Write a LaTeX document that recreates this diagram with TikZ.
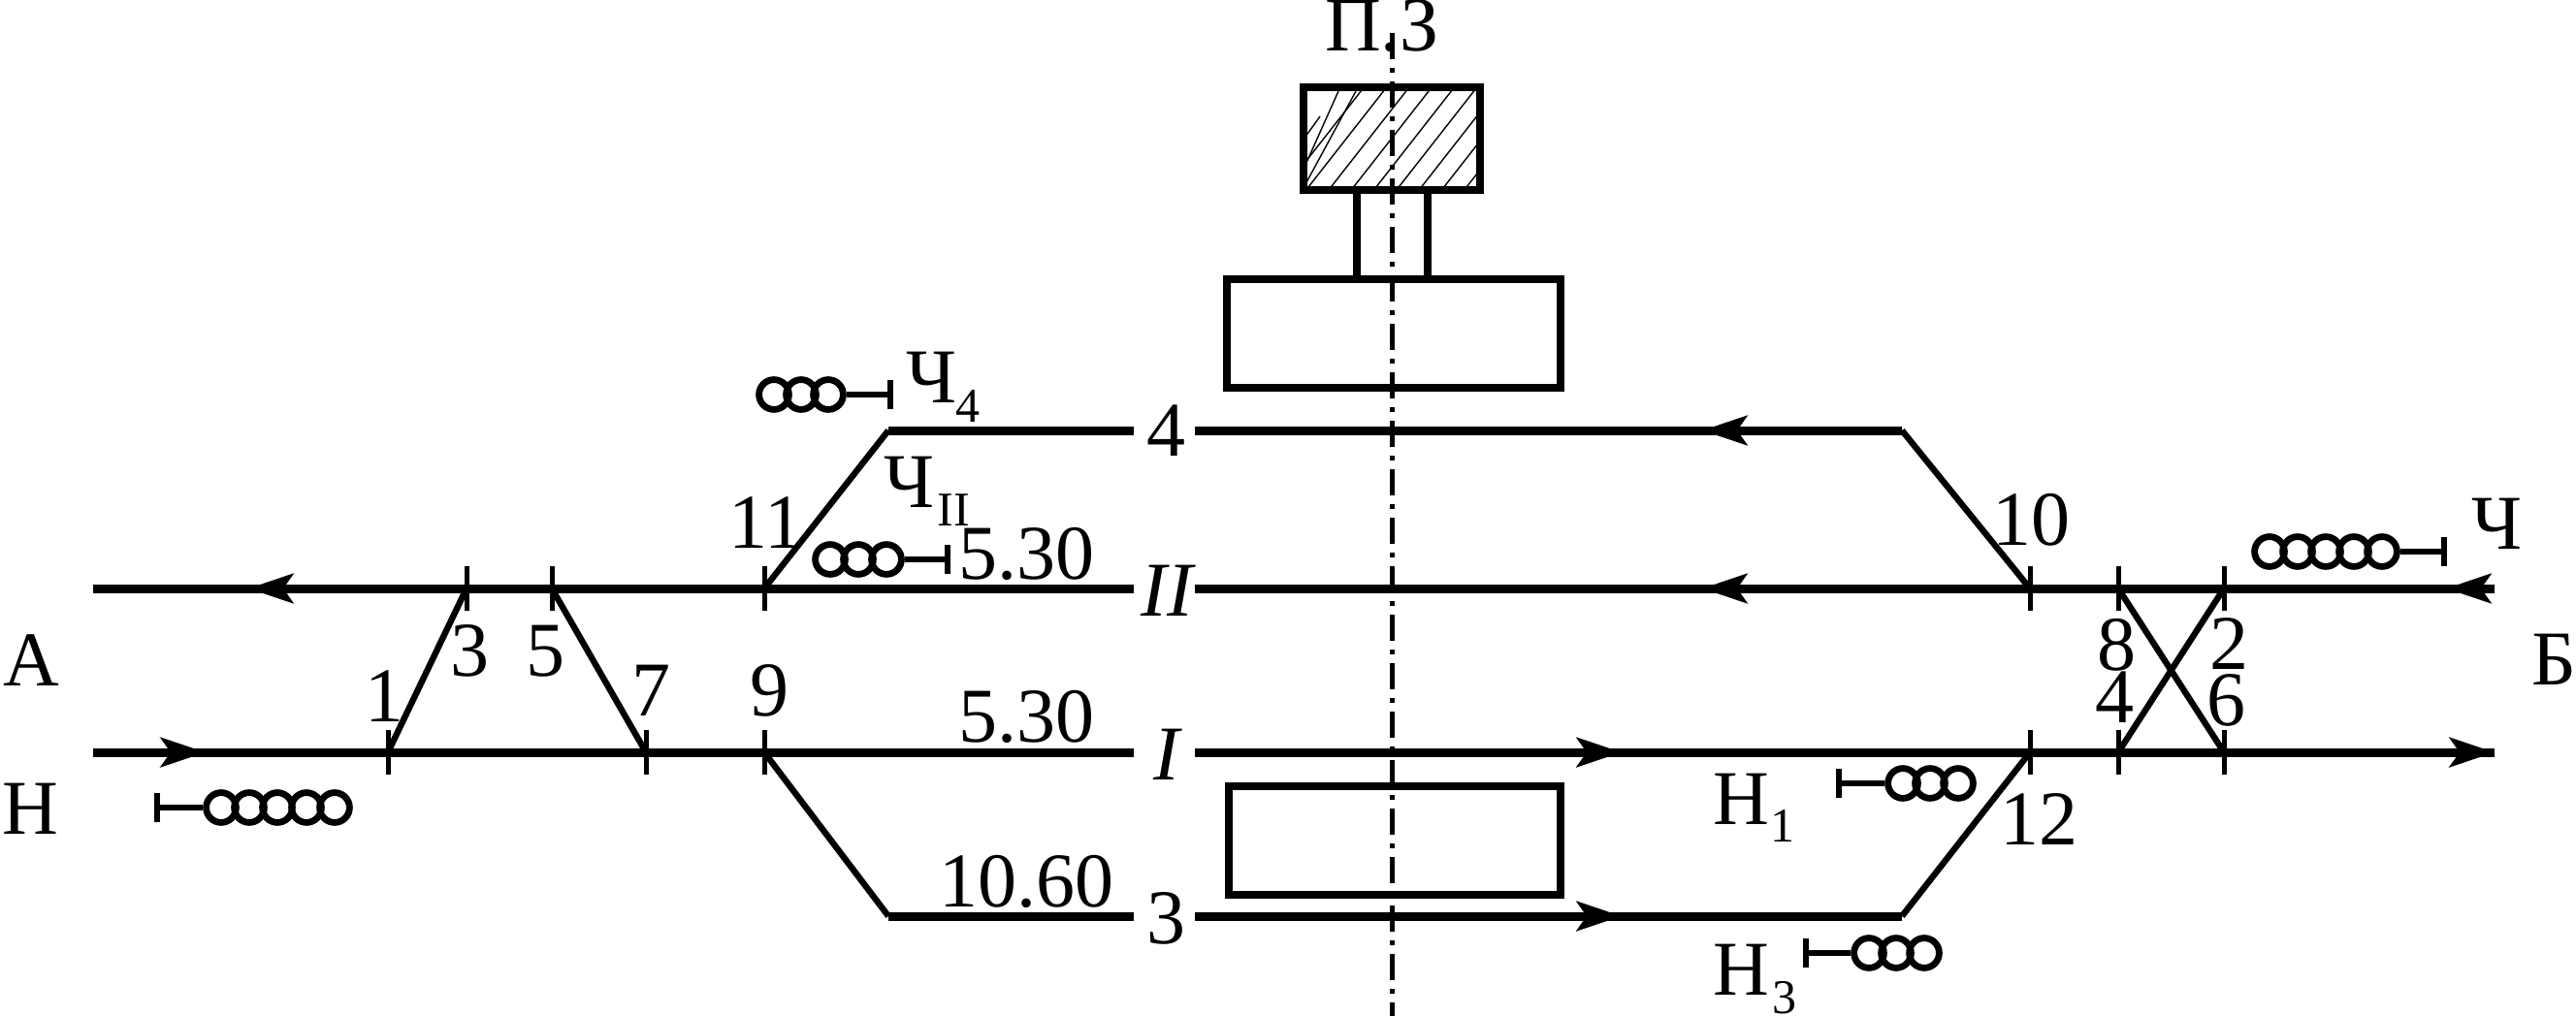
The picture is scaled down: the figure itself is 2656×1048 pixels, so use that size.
\documentclass[tikz,border=0pt]{standalone}
\usepackage{fontspec}
\setmainfont{Liberation Serif}
\usetikzlibrary{arrows.meta,patterns}
\tikzset{>=stealth}
\tikzset{
    trackline/.style={line width=2.25pt},
    branchline/.style={line width=1.6pt},
    joint/.style={line width=1.25pt},
    heavybox/.style={line width=2.2pt},
    axisline/.style={line width=1.25pt, dash pattern=on 6.75pt off 2.25pt on 1.25pt off 2.25pt},
    hatchline/.style={line width=0.35pt},
    lamp/.style={draw, circle, line width=1.7pt, minimum size=7.7pt, inner sep=0pt},
    mast/.style={line width=1.7pt},
    tag/.style={anchor=base, inner sep=0pt, font=\fontsize{20}{20}\selectfont},
    subtag/.style={anchor=base, inner sep=0pt, font=\fontsize{12.5}{12.5}\selectfont},
    flow/.style={line width=2.25pt, -{Stealth[length=11.5pt, width=7.5pt, inset=2.5pt]}}
}
\begin{document}
\begin{tikzpicture}[x=0.25pt, y=-0.25pt]
    \useasboundingbox (0,0) rectangle (2656,1048);
    % switch points
    \coordinate (sw1) at (400,776);
    \coordinate (sw3) at (481,607);
    \coordinate (sw5) at (569,607);
    \coordinate (sw7) at (666,776);
    \coordinate (sw9) at (788,776);
    \coordinate (sw11) at (788,607);
    \coordinate (sw10) at (2093,607);
    \coordinate (sw12) at (2093,776);
    \coordinate (sw8) at (2184,607);
    \coordinate (sw2) at (2293,607);
    \coordinate (sw4) at (2184,776);
    \coordinate (sw6) at (2293,776);
    \coordinate (bendA) at (916,444);
    \coordinate (bendB) at (916,945);
    \coordinate (bendC) at (1961,444);
    \coordinate (bendD) at (1961,945);
    % track ends
    \coordinate (startII) at (96,607);
    \coordinate (startI) at (96,776);
    \coordinate (endII) at (2572,607);
    \coordinate (endI) at (2572,776);
    \coordinate (leftII) at (1169,607);
    \coordinate (rightII) at (1232,607);
    \coordinate (leftI) at (1169,776);
    \coordinate (rightI) at (1232,776);
    \coordinate (leftIV) at (1169,444);
    \coordinate (rightIV) at (1232,444);
    \coordinate (leftIII) at (1169,945);
    \coordinate (rightIII) at (1232,945);
    % station buildings
    \draw[hatchline] (1346,141) -- (1361,120) (1346,190) -- (1398,94) (1346,170) -- (1380,94);
    \begin{scope}
        \clip (1344,90) rectangle (1526,196);
        \foreach \hx in {1,...,9}
            \draw[hatchline] ({1300+\hx*23.3},196) -- ({1300+\hx*23.3+83},90);
    \end{scope}
    \draw[heavybox] (1344,90) rectangle (1526,196);
    \draw[heavybox] (1399,196) -- (1399,288);
    \draw[heavybox] (1472,196) -- (1472,288);
    \draw[heavybox] (1265,288) rectangle (1609,400);
    \draw[heavybox] (1267,811) rectangle (1609,923);
    \draw[axisline] (1435,34) -- (1435,1048);
    % tracks
    \draw[trackline] (startII) -- (leftII);
    \draw[trackline] (rightII) -- (endII);
    \draw[trackline] (startI) -- (leftI);
    \draw[trackline] (rightI) -- (endI);
    \draw[trackline] (bendA) -- (leftIV);
    \draw[trackline] (rightIV) -- (bendC);
    \draw[trackline] (bendB) -- (leftIII);
    \draw[trackline] (rightIII) -- (bendD);
    \draw[branchline] (sw1) -- (sw3);
    \draw[branchline] (sw5) -- (sw7);
    \draw[branchline] (sw11) -- (bendA);
    \draw[branchline] (sw9) -- (bendB);
    \draw[branchline] (sw10) -- (bendC);
    \draw[branchline] (sw12) -- (bendD);
    \draw[branchline] (sw8) -- (sw6);
    \draw[branchline] (sw2) -- (sw4);
    % joints
    \foreach \jt in {sw3,sw5,sw11,sw10,sw8,sw2,sw1,sw7,sw9,sw12,sw4,sw6}
        \draw[joint] ([yshift=5.75pt]\jt) -- ([yshift=-5.75pt]\jt);
    % arrows
    \draw[flow] (300,607) -- (256,607);
    \draw[flow] (165,776) -- (212,776);
    \draw[flow] (1800,444) -- (1755,444);
    \draw[flow] (1800,607) -- (1755,607);
    \draw[flow] (1625,776) -- (1672,776);
    \draw[flow] (1625,945) -- (1672,945);
    \draw[flow] (2572,607) -- (2522,607);
    \draw[flow] (2520,776) -- (2572,776);
    % signals
    \foreach \cx in {2340,2369,2398,2427,2456} \node[lamp] (ch\cx) at (\cx,569) {};
    \coordinate (chpost) at (2520,569);
    \draw[mast] (ch2456) -- (chpost);
    \draw[mast] ([yshift=3.7pt]chpost) -- ([yshift=-3.7pt]chpost);
    \foreach \cx in {228,257,286,316,345} \node[lamp] (na\cx) at (\cx,833) {};
    \coordinate (napost) at (162,833);
    \draw[mast] (na228) -- (napost);
    \draw[mast] ([yshift=3.7pt]napost) -- ([yshift=-3.7pt]napost);
    \foreach \cx in {798,826,854} \node[lamp] (chiv\cx) at (\cx,407) {};
    \coordinate (chivpost) at (918,407);
    \draw[mast] (chiv854) -- (chivpost);
    \draw[mast] ([yshift=3.7pt]chivpost) -- ([yshift=-3.7pt]chivpost);
    \foreach \cx in {856,885,914} \node[lamp] (chii\cx) at (\cx,577) {};
    \coordinate (chiipost) at (977,577);
    \draw[mast] (chii914) -- (chiipost);
    \draw[mast] ([yshift=3.7pt]chiipost) -- ([yshift=-3.7pt]chiipost);
    \foreach \cx in {1962,1990,2019} \node[lamp] (nai\cx) at (\cx,808) {};
    \coordinate (naipost) at (1896,808);
    \draw[mast] (nai1962) -- (naipost);
    \draw[mast] ([yshift=3.7pt]naipost) -- ([yshift=-3.7pt]naipost);
    \foreach \cx in {1927,1955,1984} \node[lamp] (naiii\cx) at (\cx,983) {};
    \coordinate (naiiipost) at (1862,983);
    \draw[mast] (naiii1927) -- (naiiipost);
    \draw[mast] ([yshift=3.7pt]naiiipost) -- ([yshift=-3.7pt]naiiipost);
    % labels
    \node[tag] (lblbuild) at (1425,53) {П.З};
    \node[tag] (lblA) at (32,707) {А};
    \node[tag] (lblH) at (31,860) {Н};
    \node[tag] (lblB) at (2633,706) {Б};
    \node[tag] (lblCh) at (2574,566) {Ч};
    \node[tag] (lblChiv) at (960,415) {Ч};
    \node[subtag] (subChiv) at (998,435) {4};
    \node[tag] (lblChii) at (937,523) {Ч};
    \node[subtag] (subChii) at (983,542) {II};
    \node[tag] (lblHi) at (1795,850) {Н};
    \node[subtag] (subHi) at (1838,868) {1};
    \node[tag] (lblHiii) at (1795,1026) {Н};
    \node[subtag] (subHiii) at (1840,1045) {3};
    \node[tag] (lbli) at (396,744) {1};
    \node[tag] (lbliii) at (484,697) {3};
    \node[tag] (lblv) at (562,697) {5};
    \node[tag] (lblvii) at (671,738) {7};
    \node[tag] (lblix) at (793,738) {9};
    \node[tag] (lblxi) at (790,565) {11};
    \node[tag] (lblx) at (2094,562) {10};
    \node[tag] (lblxii) at (2102,871) {12};
    \node[tag] (lblviii) at (2182,691) {8};
    \node[tag] (lblii) at (2298,690) {2};
    \node[tag] (lbliv) at (2180,745) {4};
    \node[tag] (lblvi) at (2295,748) {6};
    \node[tag] (lenII) at (1058,597) {5.30};
    \node[tag] (lenI) at (1058,765) {5.30};
    \node[tag] (lenIII) at (1058,935) {10.60};
    \node[tag] (trkIV) at (1202,470) {4};
    \node[tag] (trkII) at (1203,635) {\itshape II};
    \node[tag] (trkI) at (1203,804) {\itshape I};
    \node[tag] (trkIII) at (1202,973) {3};
\end{tikzpicture}
\end{document}
